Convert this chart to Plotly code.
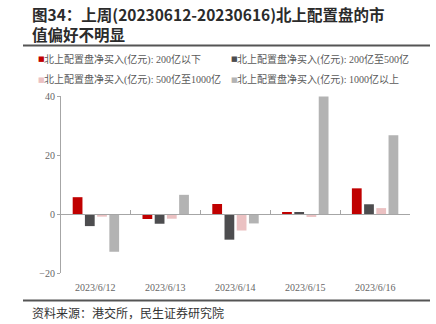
import plotly.graph_objects as go

categories = ["2023/6/12", "2023/6/13", "2023/6/14", "2023/6/15", "2023/6/16"]
series_names = [
    "北上配置盘净买入(亿元): 200亿以下",
    "北上配置盘净买入(亿元): 200亿至500亿",
    "北上配置盘净买入(亿元): 500亿至1000亿",
    "北上配置盘净买入(亿元): 1000亿以上",
]
s_lt200 = [5.7, -1.7, 3.4, 0.4, 8.7]
s_200_500 = [-4.1, -3.3, -8.7, 0.4, 3.3]
s_500_1000 = [-0.9, -1.6, -5.6, -1.0, 2.0]
s_gt1000 = [-12.8, 6.5, -3.2, 39.8, 26.7]
colors = ["#C00000", "#4D4D4F", "#EBC1C2", "#B3B3B3"]
y_ticks = [-20, 0, 20, 40]
title_lines = ["图34：上周(20230612-20230616)北上配置盘的市", "值偏好不明显"]
source_text = "资料来源：港交所，民生证券研究院"

W, H = 436, 324
ml, mr, mt, mb = 61, 26, 96, 51
pw, ph = W - ml - mr, H - mt - mb
serif = "Liberation Serif, Noto Sans CJK SC, serif"
cjk = "Noto Sans CJK SC, sans-serif"

def px_x(px):
    return (px - ml) / pw

def px_y(py):
    return 1 - (py - mt) / ph

legend_pos = [(37, 59), (230, 59), (37, 80), (230, 80)]

fig = go.Figure()
for name, vals, c in zip(series_names, [s_lt200, s_200_500, s_500_1000, s_gt1000], colors):
    fig.add_trace(go.Bar(x=categories, y=vals, name=name, marker_color=c,
                         marker_line_width=0))

ymin, ymax = -20, 40
zero_frac = (0 - ymin) / (ymax - ymin)

fig.update_layout(
    width=W, height=H,
    margin=dict(l=ml, r=mr, t=mt, b=mb),
    paper_bgcolor="white", plot_bgcolor="white",
    barmode="group", bargap=0.3, bargroupgap=0.2,
    showlegend=False,
    xaxis=dict(type="category", range=[-0.5, 4.5], anchor="free",
               position=zero_frac, showline=True, linecolor="#A6A6A6", linewidth=1,
               ticks="inside", tickson="boundaries", ticklen=4, tickcolor="#A6A6A6",
               showticklabels=False, showgrid=False, zeroline=False),
    yaxis=dict(range=[ymin, ymax], tickvals=y_ticks, showline=True, linecolor="#A6A6A6",
               linewidth=1, ticks="outside", ticklen=3, tickcolor="#A6A6A6",
               showgrid=False, zeroline=False,
               tickfont=dict(family=serif, size=10, color="#666666")),
    font=dict(family=cjk),
)

annotations = []
for name, c, (lx, ly) in zip(series_names, colors, legend_pos):
    annotations.append(dict(x=px_x(lx - 1), xref="paper", xanchor="left",
                            y=px_y(ly), yref="paper", yanchor="middle",
                            text="■", showarrow=False,
                            font=dict(family="DejaVu Sans", size=7, color=c)))
    annotations.append(dict(x=px_x(lx + 5), xref="paper", xanchor="left",
                            y=px_y(ly), yref="paper", yanchor="middle",
                            text=name, showarrow=False,
                            font=dict(family=serif, size=10, color="#595959")))
for c in categories:
    annotations.append(dict(x=c, xref="x", y=0, yref="paper", yshift=-7, yanchor="top",
                            text=c, showarrow=False,
                            font=dict(family=serif, size=10, color="#666666")))
annotations.append(dict(x=px_x(30), xref="paper", xanchor="left",
                        y=px_y(23.5), yref="paper", yanchor="middle",
                        text="<b>" + "<br>".join(title_lines) + "</b>",
                        showarrow=False, align="left",
                        font=dict(family=cjk, size=15.5, color="#2b2b2b")))
annotations.append(dict(x=px_x(30), xref="paper", xanchor="left",
                        y=px_y(312), yref="paper", yanchor="middle",
                        text=source_text, showarrow=False,
                        font=dict(family=cjk, size=12, color="#333333")))
fig.update_layout(annotations=annotations)

shapes = [
    dict(type="line", xref="paper", yref="paper", x0=px_x(23), x1=px_x(430),
         y0=px_y(45.5), y1=px_y(45.5), line=dict(color="#555555", width=2)),
    dict(type="line", xref="paper", yref="paper", x0=px_x(23), x1=px_x(430),
         y0=px_y(300.5), y1=px_y(300.5), line=dict(color="#555555", width=2)),
]
fig.update_layout(shapes=shapes)

fig.write_html("out.html")
